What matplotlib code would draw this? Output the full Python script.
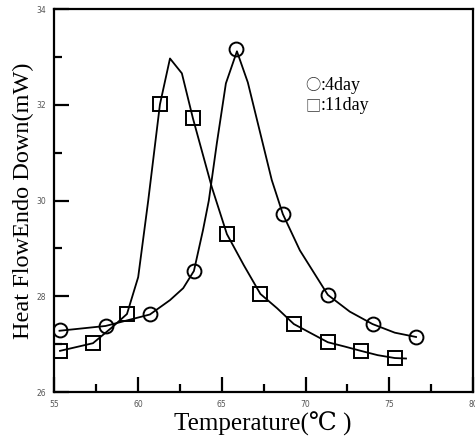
import matplotlib
matplotlib.use("Agg")
import matplotlib.pyplot as plt
from matplotlib.ticker import MultipleLocator

# measured points (markers)
t4 = [55.3, 58.05, 60.7, 63.33, 65.85, 68.64, 71.33, 74.0, 76.6]
h4 = [27.29, 27.38, 27.63, 28.53, 33.16, 29.72, 28.03, 27.42, 27.15]
t11 = [55.33, 57.3, 59.33, 61.3, 63.27, 65.3, 67.3, 69.3, 71.33, 73.3, 75.33]
h11 = [26.86, 27.02, 27.63, 32.01, 31.72, 29.3, 28.05, 27.42, 27.04, 26.86, 26.71]

# traced curves
c4_t = [55.3, 58.05, 60.7, 61.9, 62.69, 63.33, 63.87, 64.22, 64.7, 65.24, 65.9, 66.55,
        67.98, 68.64, 69.66, 71.33, 72.64, 74.0, 75.33, 76.6]
c4_h = [27.28, 27.38, 27.62, 27.92, 28.17, 28.53, 29.38, 30.0, 31.2, 32.45, 33.12, 32.47,
        30.43, 29.72, 28.96, 28.03, 27.68, 27.42, 27.24, 27.15]
c11_t = [55.33, 57.3, 58.4, 59.33, 60.0, 60.6, 61.3, 61.9, 62.61, 63.27, 64.4, 65.3,
         66.31, 67.3, 68.3, 69.3, 71.33, 72.34, 73.3, 74.31, 75.33, 76.0]
c11_h = [26.86, 27.02, 27.34, 27.63, 28.4, 30.0, 32.01, 32.97, 32.66, 31.72, 30.28, 29.3,
         28.65, 28.05, 27.75, 27.42, 27.04, 26.95, 26.86, 26.77, 26.71, 26.7]

serif = ['Liberation Serif', 'DejaVu Serif']
cjk = ['Noto Sans CJK SC', 'DejaVu Sans']

fig = plt.figure(figsize=(4.75, 4.38), dpi=100)
ax = fig.add_axes([0.1147, 0.105, 0.881, 0.874])

ax.plot(c4_t, c4_h, color='black', lw=1.3)
ax.plot(c11_t, c11_h, color='black', lw=1.3)
ax.plot(t4, h4, 'o', ms=10, mfc='none', mec='black', mew=1.4)
ax.plot(t11, h11, 's', ms=9.5, mfc='none', mec='black', mew=1.4)

ax.set_xlim(55, 80)
ax.set_ylim(26, 34)
ax.xaxis.set_major_locator(MultipleLocator(5))
ax.xaxis.set_minor_locator(MultipleLocator(2.5))
ax.yaxis.set_major_locator(MultipleLocator(2))
ax.yaxis.set_minor_locator(MultipleLocator(1))
ax.tick_params(which='major', direction='in', length=11, width=1.6, labelsize=5.5,
               labelcolor='#555555', pad=6)
ax.tick_params(which='minor', direction='in', length=6, width=1.6)
for s in ax.spines.values():
    s.set_linewidth(1.6)

ax.set_xlabel('Temperature(\u2103 )', family=serif, fontsize=18)
ax.xaxis.set_label_coords(0.498, -0.052)
ax.set_ylabel('Heat FlowEndo Down(mW)', family=serif, fontsize=17.5)
ax.yaxis.set_label_coords(-0.05, 0.5)

# legend written as text, symbol glyphs drawn in a CJK font
ax.text(70.0, 32.41, '\u25cb', family=cjk, fontsize=11, va='center', color='#333333')
ax.text(70.9, 32.41, ':4day', family=serif, fontsize=13, va='center')
ax.text(70.0, 31.99, '\u25a1', family=cjk, fontsize=11, va='center', color='#333333')
ax.text(70.9, 31.99, ':11day', family=serif, fontsize=13, va='center')

fig.savefig('out.png', dpi=100)
